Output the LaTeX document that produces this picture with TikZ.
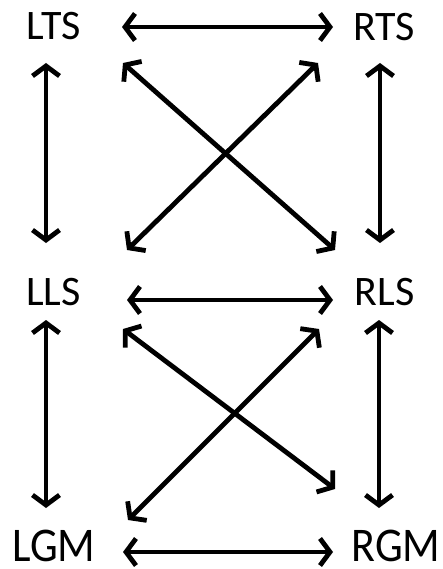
\documentclass[tikz,border=0pt]{standalone}
\usepackage{fontspec}
\setmainfont{Carlito}
\usepackage{graphicx}
\usetikzlibrary{arrows.meta, positioning}

\tikzset{
   lbl/.style={inner sep=0pt, font=\fontsize{42}{50}\selectfont},
   lblbig/.style={inner sep=0pt, font=\fontsize{44}{52}\selectfont},
   twoway/.style={line width=4.8pt,
      {Straight Barb[length=10pt,width=27pt,line width=4.8pt]}-{Straight Barb[length=10pt,width=27pt,line width=4.8pt]}}
}

\begin{document}
\begin{tikzpicture}[x=1pt, y=-1pt]
            \useasboundingbox (0,0) rectangle (443,569);
            % Labels
            \node[lbl] (LTS) at (53.5,26) {LTS};
            \node[lbl] (RTS) at (384,27) {RTS};
            \node[lbl] (LLS) at (53.5,292) {LLS};
            \node[lbl] (RLS) at (384.5,292) {RLS};
            \node[lblbig] (LGM) at (54,546) {\scalebox{1}[1.1]{LGM}};
            \node[lblbig] (RGM) at (396,546) {\scalebox{1}[1.1]{RGM}};
            % Horizontal arrows
            \draw[twoway] ([shift={(68.5,1)}]LTS.center) -- ([shift={(-51,0)}]RTS.center);
            \draw[twoway] ([shift={(73.5,8)}]LLS.center) -- ([shift={(-51.5,8)}]RLS.center);
            \draw[twoway] ([shift={(69,6)}]LGM.center) -- ([shift={(-63,6)}]RGM.center);
            % Vertical arrows
            \draw[twoway] ([shift={(-7.5,37)}]LTS.center) -- ([shift={(-7.5,-49)}]LLS.center);
            \draw[twoway] ([shift={(-4,36)}]RTS.center) -- ([shift={(-4.5,-49)}]RLS.center);
            \draw[twoway] ([shift={(-7.5,28)}]LLS.center) -- ([shift={(-8,-38)}]LGM.center);
            \draw[twoway] ([shift={(-5.5,28)}]RLS.center) -- ([shift={(-17,-38)}]RGM.center);
            % Crossing arrows, upper pair
            \draw[twoway] ([shift={(69.5,37)}]LTS.center) -- ([shift={(-49.5,-42)}]RLS.center);
            \draw[twoway] ([shift={(-66,36)}]RTS.center) -- ([shift={(73.5,-42)}]LLS.center);
            % Crossing arrows, lower pair
            \draw[twoway] ([shift={(69.5,37)}]LLS.center) -- ([shift={(-61,-57)}]RGM.center);
            \draw[twoway] ([shift={(-65.5,37)}]RLS.center) -- ([shift={(74,-26)}]LGM.center);
         \end{tikzpicture}
\end{document}
